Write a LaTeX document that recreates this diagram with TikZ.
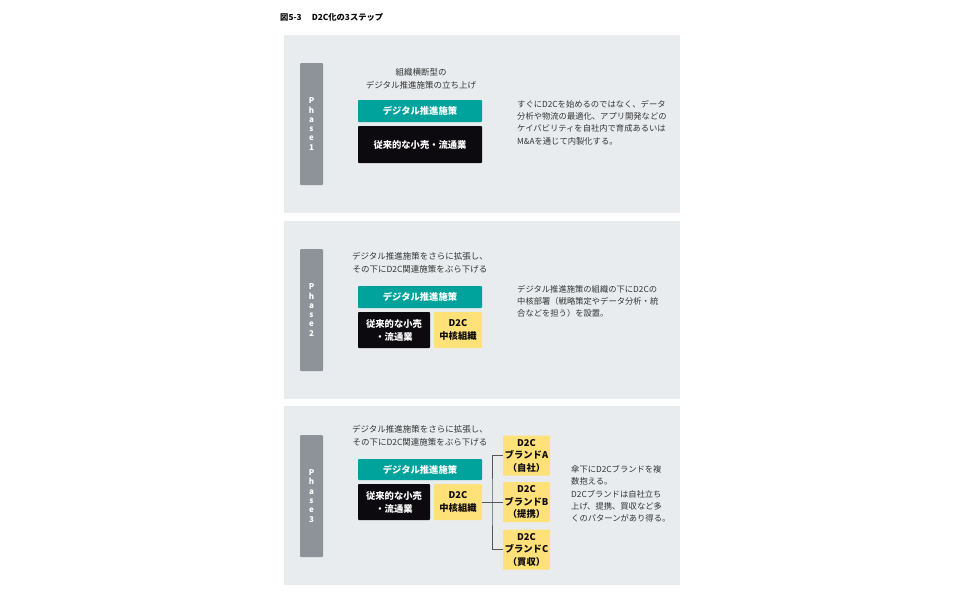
\documentclass[tikz,border=0pt]{standalone}
\usepackage{fontspec}
\setmainfont{Noto Sans CJK JP}
\usetikzlibrary{positioning}
\definecolor{panelbg}{HTML}{E9ECEE}
\definecolor{barcol}{HTML}{8E9399}
\definecolor{tealcol}{HTML}{00A39B}
\definecolor{blackcol}{HTML}{0C0A0E}
\definecolor{yellowcol}{HTML}{FFE17A}
\definecolor{txtcol}{HTML}{333333}
\definecolor{linecol}{HTML}{555555}
\tikzset{
  panel/.style={fill=panelbg, draw=none, minimum width=396pt, inner sep=0pt},
  phasebar/.style={fill=barcol, rounded corners=1pt, minimum width=23pt, minimum height=122pt, inner sep=0pt,
    text=white, font=\fontsize{8}{9.3}\selectfont\bfseries, align=center},
  tealbox/.style={fill=tealcol, rounded corners=0.8pt, inner sep=0pt, text=white,
    font=\fontsize{9.3}{11}\selectfont\bfseries},
  blackbox/.style={fill=blackcol, rounded corners=0.8pt, inner sep=0pt, text=white,
    font=\fontsize{9.3}{13}\selectfont\bfseries, align=center},
  yellowbox/.style={fill=yellowcol, rounded corners=0.8pt, inner sep=0pt, text=blackcol,
    font=\fontsize{9.3}{13}\selectfont\bfseries, align=center},
  brandbox/.style={yellowbox, minimum width=47pt, minimum height=40pt, font=\fontsize{9.3}{12.5}\selectfont\bfseries},
  caption/.style={text=txtcol, font=\fontsize{8.5}{13}\selectfont, align=center, inner sep=0pt},
  desc/.style={text=txtcol, font=\fontsize{8.3}{12.3}\selectfont, align=left, inner sep=0pt, anchor=west},
  conn/.style={draw=linecol, line width=0.8pt}
}
\begin{document}
\begin{tikzpicture}[x=1pt,y=-1pt]
\useasboundingbox[fill=white] (0,0) rectangle (970,600);
\node[anchor=west, inner sep=0pt, font=\fontsize{8.3}{9}\selectfont\bfseries, text=blackcol] (title) at (280,17) {図5-3\hspace{1.2em}D2C化の3ステップ};

% Phase 1
\node[panel, minimum height=178pt] (p1) at (482,124) {};
\node[phasebar] (bar1) at (311.5,124) {P\\h\\a\\s\\e\\1};
\node[caption] (cap1) at (421,79) {組織横断型の\\デジタル推進施策の立ち上げ};
\node[tealbox, minimum width=124pt, minimum height=22pt] (t1) at (420,111) {デジタル推進施策};
\node[blackbox, minimum width=124pt, minimum height=37pt] (k1) at (420,144.5) {従来的な小売・流通業};
\node[desc] (d1) at (517,122.5) {すぐにD2Cを始めるのではなく、データ\\分析や物流の最適化、アプリ開発などの\\ケイパビリティを自社内で育成あるいは\\M\&Aを通じて内製化する。};

% Phase 2
\node[panel, minimum height=178pt] (p2) at (482,310) {};
\node[phasebar] (bar2) at (311.5,310) {P\\h\\a\\s\\e\\2};
\node[caption] (cap2) at (420,262.5) {デジタル推進施策をさらに拡張し、\\その下にD2C関連施策をぶら下げる};
\node[tealbox, minimum width=124pt, minimum height=22pt] (t2) at (420,297) {デジタル推進施策};
\node[blackbox, minimum width=72pt, minimum height=36pt] (k2) at (394,330) {従来的な小売\\・流通業};
\node[yellowbox, minimum width=48pt, minimum height=36pt] (y2) at (458,330) {D2C\\中核組織};
\node[desc] (d2) at (517,301.5) {デジタル推進施策の組織の下にD2Cの\\中核部署（戦略策定やデータ分析・統\\合などを担う）を設置。};

% Phase 3
\node[panel, minimum height=179pt] (p3) at (482,495.5) {};
\node[phasebar] (bar3) at (311.5,496) {P\\h\\a\\s\\e\\3};
\node[caption] (cap3) at (420,435.5) {デジタル推進施策をさらに拡張し、\\その下にD2C関連施策をぶら下げる};
\node[tealbox, minimum width=124pt, minimum height=21pt] (t3) at (420,469.5) {デジタル推進施策};
\node[blackbox, minimum width=72pt, minimum height=36pt] (k3) at (394,502) {従来的な小売\\・流通業};
\node[yellowbox, minimum width=48pt, minimum height=36pt] (y3) at (458,502) {D2C\\中核組織};
\node[brandbox] (bA) at (526.5,455.5) {D2C\\ブランドA\\（自社）};
\node[brandbox] (bB) at (526.5,502) {D2C\\ブランドB\\（提携）};
\node[brandbox] (bC) at (526.5,549.5) {D2C\\ブランドC\\（買収）};
\coordinate (j) at (492,502);
\draw[conn] (y3.east) -- (j);
\draw[conn] (bA.west) -| (j) |- (bC.west);
\draw[conn] (j) -- (bB.west);
\node[desc] (d3) at (571,494) {傘下にD2Cブランドを複\\数抱える。\\D2Cブランドは自社立ち\\上げ、提携、買収など多\\くのパターンがあり得る。};
\end{tikzpicture}
\end{document}
